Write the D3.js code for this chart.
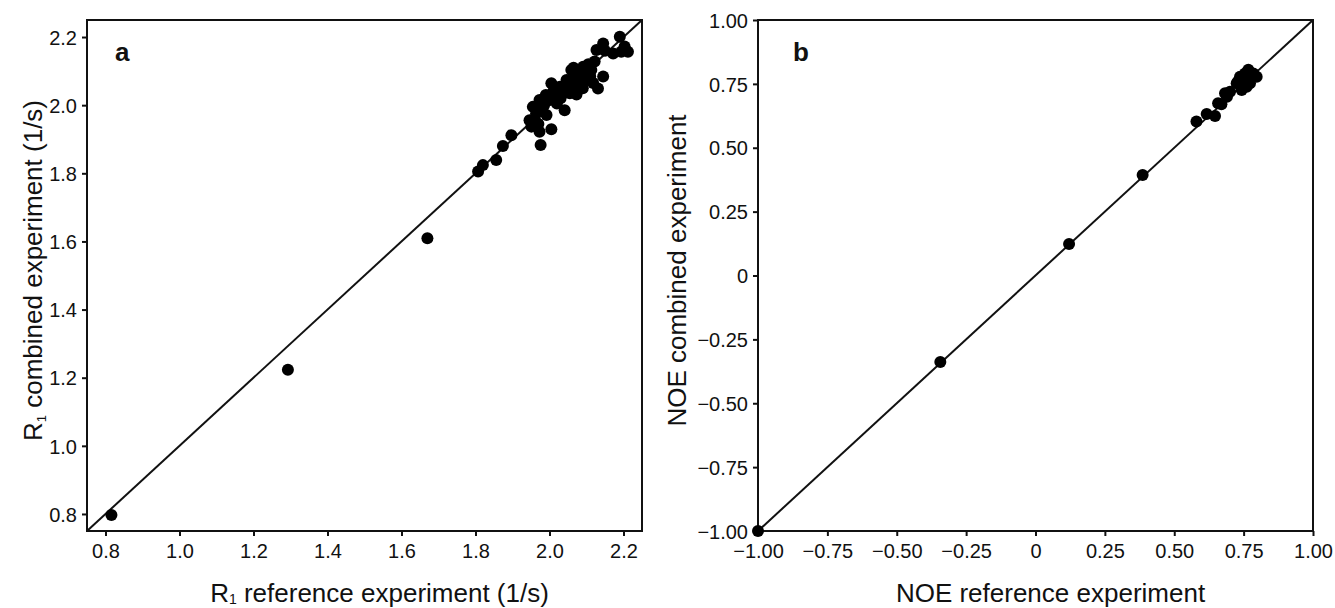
<!DOCTYPE html>
<html>
  <head>
    <meta charset="utf-8">
    <script src="https://cdn.jsdelivr.net/npm/d3@7"></script>
    <style>
      body { margin: 0; background: #fff; }
      text { font-family: 'Liberation Sans', Arial, Helvetica, sans-serif; fill: #111; }
    </style>
  </head>
  <body>
    <svg width="1335" height="608"></svg>
    <script>
      // panel a: R1 (1/s), reference vs combined
      const r1Ref = [0.816, 1.293, 1.670, 1.807, 1.820, 1.856, 1.874, 1.897, 1.976, 2.005, 1.973, 1.946,
        1.955, 1.973, 1.992, 2.005, 2.019, 2.041, 2.050, 2.064, 2.059, 2.073, 2.082, 2.091, 2.100, 2.113,
        2.122, 2.131, 2.145, 2.127, 2.145, 2.172, 2.190, 2.203, 2.212, 2.194, 2.073, 2.046, 2.028, 2.000,
        1.982, 1.964, 1.951, 1.960, 1.985, 2.010, 2.030, 2.060, 2.080, 2.095, 2.110, 2.055, 2.090, 1.970,
        2.020, 2.065, 2.105, 2.040, 2.085, 1.990, 2.150, 2.118]
      const r1Comb = [0.797, 1.223, 1.609, 1.805, 1.824, 1.839, 1.880, 1.912, 1.883, 1.929, 1.922, 1.956,
        1.995, 2.015, 1.971, 2.064, 2.030, 1.985, 2.044, 2.074, 2.103, 2.093, 2.054, 2.113, 2.074, 2.103,
        2.128, 2.049, 2.084, 2.162, 2.181, 2.152, 2.201, 2.172, 2.157, 2.157, 2.031, 2.074, 2.054, 2.015,
        1.995, 1.976, 1.937, 1.960, 2.000, 2.040, 2.020, 2.060, 2.080, 2.095, 2.085, 2.035, 2.050, 1.945,
        2.005, 2.110, 2.120, 2.050, 2.100, 2.030, 2.160, 2.065]
      const r1Ticks = [0.8, 1.0, 1.2, 1.4, 1.6, 1.8, 2.0, 2.2]

      // panel b: NOE, reference vs combined
      const noeRef = [-1.0, -0.343, 0.121, 0.386, 0.580, 0.617, 0.647, 0.658, 0.683, 0.701, 0.743, 0.737,
        0.755, 0.767, 0.785, 0.797, 0.773, 0.749, 0.725, 0.761, 0.670, 0.690, 0.730, 0.760, 0.780]
      const noeComb = [-1.0, -0.339, 0.123, 0.393, 0.603, 0.632, 0.624, 0.674, 0.713, 0.719, 0.726, 0.778,
        0.791, 0.805, 0.791, 0.778, 0.752, 0.759, 0.752, 0.739, 0.670, 0.700, 0.760, 0.770, 0.780]
      const noeTicks = [-1.0, -0.75, -0.5, -0.25, 0, 0.25, 0.5, 0.75, 1.0]

      const svg = d3.select('svg')
      const plotTop = 20, plotBottom = 531

      function panel(opt) {
        const x = d3.scaleLinear().domain(opt.domain).range([opt.left, opt.right])
        const y = d3.scaleLinear().domain(opt.domain).range([plotBottom, plotTop])
        const g = svg.append('g')

        const xAxis = g.append('g')
          .attr('transform', `translate(0,${plotBottom})`)
          .call(d3.axisBottom(x).tickValues(opt.ticks).tickFormat(opt.fmt).tickSizeOuter(0).tickSize(5).tickPadding(8))
        const yAxis = g.append('g')
          .attr('transform', `translate(${opt.left},0)`)
          .call(d3.axisLeft(y).tickValues(opt.ticks).tickFormat(opt.fmt).tickSizeOuter(0).tickSize(5).tickPadding(5))
        for (const ax of [xAxis, yAxis]) {
          ax.select('.domain').remove()
          ax.selectAll('line').attr('stroke', '#111').attr('stroke-width', 2)
          ax.selectAll('text').attr('font-size', 20).attr('fill', '#1a1a1a')
            .style('font-family', "'Liberation Sans', Arial, sans-serif")
        }
        yAxis.selectAll('text').attr('dy', '0.36em')

        // frame
        g.append('rect')
          .attr('x', opt.left).attr('y', plotTop)
          .attr('width', opt.right - opt.left).attr('height', plotBottom - plotTop)
          .attr('fill', 'none').attr('stroke', '#111').attr('stroke-width', 2)

        // y = x line
        g.append('line')
          .attr('x1', x(opt.domain[0])).attr('y1', y(opt.domain[0]))
          .attr('x2', x(opt.domain[1])).attr('y2', y(opt.domain[1]))
          .attr('stroke', '#111').attr('stroke-width', 2)

        g.append('g').selectAll('circle')
          .data(opt.xs.map((v, i) => [v, opt.ys[i]]))
          .enter()
          .append('circle')
          .attr('cx', d => x(d[0]))
          .attr('cy', d => y(d[1]))
          .attr('r', 6)
          .attr('fill', '#000')

        // panel letter
        g.append('text')
          .attr('x', opt.left + opt.letterDx).attr('y', 61)
          .attr('font-size', 26).attr('font-weight', 'bold')
          .text(opt.letter)

        // x title
        const xt = g.append('text')
          .attr('x', (opt.left + opt.right) / 2 + 15).attr('y', 602)
          .attr('text-anchor', 'middle').attr('font-size', 26)
        opt.xTitle(xt)

        // y title
        const yt = g.append('text')
          .attr('transform', `translate(${opt.yTitleX},${(plotTop + plotBottom) / 2 - 5}) rotate(-90)`)
          .attr('text-anchor', 'middle').attr('font-size', 26)
        opt.yTitle(yt)
      }

      panel({
        left: 87, right: 642, domain: [0.75, 2.25], ticks: r1Ticks,
        fmt: d3.format('.1f'), xs: r1Ref, ys: r1Comb, letter: 'a', letterDx: 28, yTitleX: 42,
        xTitle: t => {
          t.append('tspan').text('R')
          t.append('tspan').attr('font-size', 14).attr('dy', 2).text('1')
          t.append('tspan').attr('dy', -2).text(' reference experiment (1/s)')
        },
        yTitle: t => {
          t.append('tspan').text('R')
          t.append('tspan').attr('font-size', 13).attr('dy', 4).text('1')
          t.append('tspan').attr('dy', -4).text(' combined experiment (1/s)')
        }
      })

      panel({
        left: 758, right: 1313, domain: [-1, 1], ticks: noeTicks,
        fmt: d => d === 0 ? '0' : d3.format('.2f')(d), xs: noeRef, ys: noeComb,
        letter: 'b', letterDx: 35, yTitleX: 686,
        xTitle: t => t.text('NOE reference experiment'),
        yTitle: t => t.text('NOE combined experiment')
      })
    </script>
  </body>
</html>
